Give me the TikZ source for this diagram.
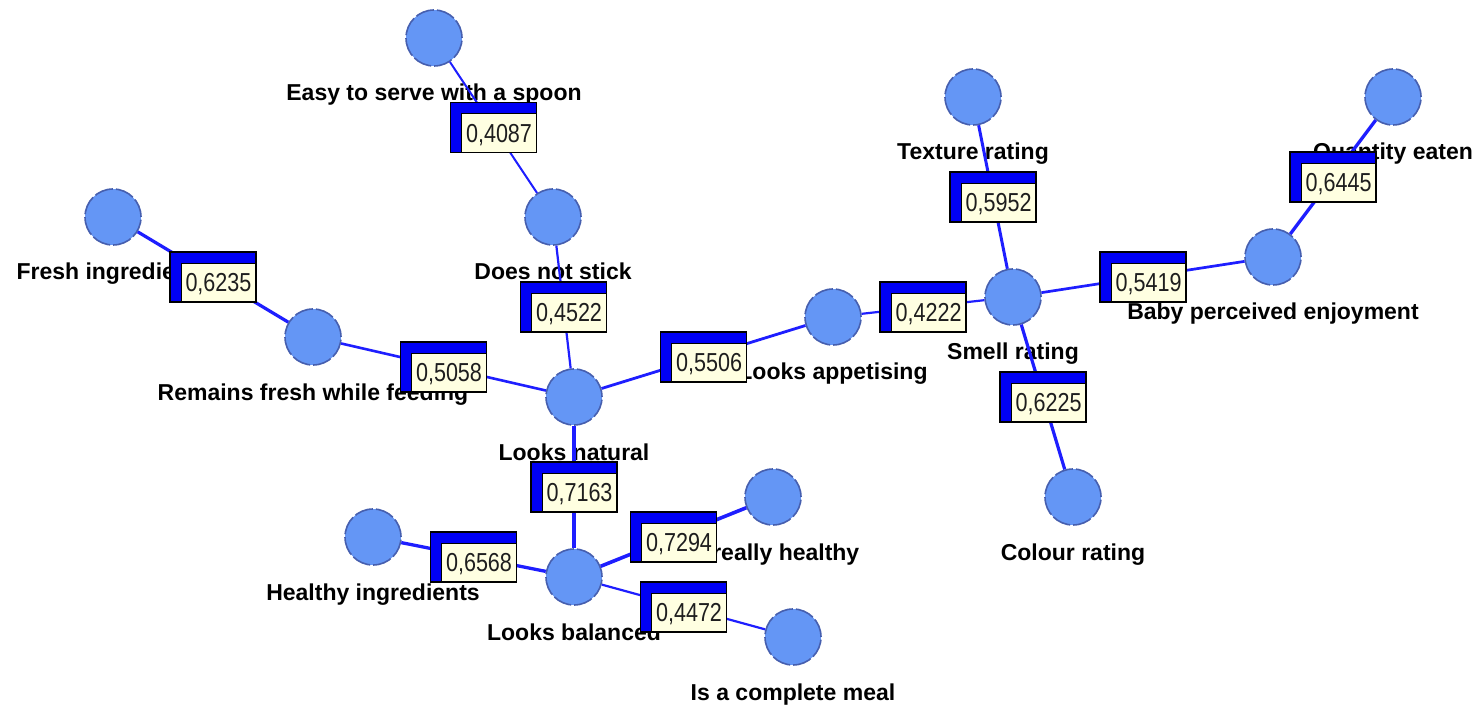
\documentclass[tikz,border=0pt]{standalone}
\usepackage{fontspec}
\setmainfont{Liberation Sans}
\newfontfamily\numfont[FakeStretch=0.83]{Liberation Sans}
\definecolor{nodefill}{RGB}{100,150,245}
\definecolor{nodeline}{RGB}{70,95,175}
\definecolor{linkblue}{RGB}{30,30,255}
\definecolor{boxblue}{RGB}{0,0,245}
\definecolor{cream}{RGB}{255,255,225}
\definecolor{numtext}{RGB}{30,30,30}
% weight value, set in the cream part of a link box
\newcommand\wval[1]{\makebox[0pt]{\raisebox{-14.8pt}[0pt][0pt]{\hspace*{11pt}#1}}}
\begin{document}
\begin{tikzpicture}[x=1pt,y=-1pt,
  vert/.style={circle, minimum size=56pt, inner sep=0pt, fill=nodefill,
    draw=nodeline, line width=1.6pt, dash pattern=on 19pt off 3pt},
  lab/.style={anchor=base, inner sep=0pt, text=black,
    font=\fontsize{23}{26}\selectfont\bfseries},
  link/.style={draw=linkblue, line width=#1},
  wbox/.style={draw=black, line width=1.2pt, fill=cream, text=numtext,
    minimum width=86pt, minimum height=50pt, inner sep=0pt,
    font=\numfont\fontsize{26}{28}\selectfont,
    path picture={
      \fill[boxblue] (path picture bounding box.north west) rectangle
        ([yshift=-11pt]path picture bounding box.north east);
      \fill[boxblue] (path picture bounding box.north west) rectangle
        ([xshift=11pt]path picture bounding box.south west);
      \draw[black, line width=0.7pt]
        ([xshift=11pt]path picture bounding box.south west) |-
        ([yshift=-11pt]path picture bounding box.north east);
    }}]
\path[use as bounding box, fill=white] (0,0) rectangle (1475,708);

% concept nodes
\node[vert] (spoon)    at (434,38)  {};
\node[vert] (stick)    at (553,217) {};
\node[vert] (fresh)    at (113,217) {};
\node[vert] (remains)  at (313,337) {};
\node[vert] (natural)  at (574,397) {};
\node[vert] (appet)    at (833,317) {};
\node[vert] (smell)    at (1013,297) {};
\node[vert] (texture)  at (973,97)  {};
\node[vert] (baby)     at (1273,257) {};
\node[vert] (quantity) at (1393,97)  {};
\node[vert] (colour)   at (1073,497) {};
\node[vert] (balanced) at (574,577) {};
\node[vert] (healthyi) at (373,537) {};
\node[vert] (really)   at (773,497) {};
\node[vert] (complete) at (793,637) {};

% node captions
\node[lab] (tspoon)    at (434,101) {Easy to serve with a spoon};
\node[lab] (tstick)    at (553,280) {Does not stick};
\node[lab] (tfresh)    at (113,280) {Fresh ingredients};
\node[lab] (tremains)  at (313,400) {Remains fresh while feeding};
\node[lab] (tnatural)  at (574,460) {Looks natural};
\node[lab] (tappet)    at (833,380) {Looks appetising};
\node[lab] (tsmell)    at (1013,360) {Smell rating};
\node[lab] (ttexture)  at (973,160) {Texture rating};
\node[lab] (tbaby)     at (1273,320) {Baby perceived enjoyment};
\node[lab] (tquantity) at (1393,160) {Quantity eaten};
\node[lab] (tcolour)   at (1073,560) {Colour rating};
\node[lab] (tbalanced) at (574,640) {Looks balanced};
\node[lab] (thealthyi) at (373,600) {Healthy ingredients};
\node[lab] (treally)   at (773,560) {Is really healthy};
\node[lab] (tcomplete) at (793,700) {Is a complete meal};

% weighted links
\draw[link=2pt]   (spoon)    -- node[wbox] (w1)  {\wval{0,4087}} (stick);
\draw[link=3.2pt] (fresh)    -- node[wbox] (w2)  {\wval{0,6235}} (remains);
\draw[link=2.6pt] (remains)  -- node[wbox] (w3)  {\wval{0,5058}} (natural);
\draw[link=2.2pt] (stick)    -- node[wbox] (w4)  {\wval{0,4522}} (natural);
\draw[link=2.8pt] (natural)  -- node[wbox] (w5)  {\wval{0,5506}} (appet);
\draw[link=2.2pt] (appet)    -- node[wbox] (w6)  {\wval{0,4222}} (smell);
\draw[link=3pt]   (texture)  -- node[wbox] (w7)  {\wval{0,5952}} (smell);
\draw[link=2.7pt] (smell)    -- node[wbox] (w8)  {\wval{0,5419}} (baby);
\draw[link=3.3pt] (baby)     -- node[wbox] (w9)  {\wval{0,6445}} (quantity);
\draw[link=3.2pt] (smell)    -- node[wbox] (w10) {\wval{0,6225}} (colour);
\draw[link=3.6pt] (natural)  -- node[wbox] (w11) {\wval{0,7163}} (balanced);
\draw[link=3.3pt] (healthyi) -- node[wbox] (w12) {\wval{0,6568}} (balanced);
\draw[link=3.6pt] (balanced) -- node[wbox] (w13) {\wval{0,7294}} (really);
\draw[link=2.2pt] (balanced) -- node[wbox] (w14) {\wval{0,4472}} (complete);
\end{tikzpicture}
\end{document}
